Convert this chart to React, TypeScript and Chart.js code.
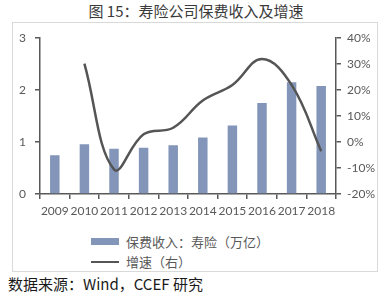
import React, { useEffect, useRef } from "react";
import { Chart, registerables } from "chart.js";

Chart.register(...registerables);

const years = ["2009", "2010", "2011", "2012", "2013", "2014", "2015", "2016", "2017", "2018"];
const premium = [0.745, 0.96, 0.87, 0.89, 0.94, 1.09, 1.32, 1.75, 2.15, 2.08];
const growth = [null, 30.2, -10.5, 3, 5.5, 16, 22, 32, 22, -3.5];
const leftTicks = [0, 1, 2, 3];
const rightTicks = [-20, -10, 0, 10, 20, 30, 40];

const titleText = "图 15：寿险公司保费收入及增速";
const barLabel = "保费收入：寿险（万亿）";
const lineLabel = "增速（右）";
const sourceText = "数据来源：Wind，CCEF 研究";

const BAR_COLOR = "#8395b8";
const LINE_COLOR = "#555555";
const AXIS_COLOR = "#595959";
const TICK_FONT = { family: "Lato, 'Noto Sans', sans-serif", size: 12 };

export default function App() {
  const ref = useRef<HTMLCanvasElement | null>(null);

  useEffect(() => {
    if (!ref.current) return;
    const chart = new Chart(ref.current, {
      data: {
        labels: years,
        datasets: [
          {
            type: "line",
            label: lineLabel,
            data: growth as any,
            yAxisID: "y1",
            borderColor: LINE_COLOR,
            borderWidth: 2.5,
            pointRadius: 0,
            tension: 0.4,
            cubicInterpolationMode: "default",
            order: 0,
          } as any,
          {
            type: "bar",
            label: barLabel,
            data: premium,
            yAxisID: "y",
            backgroundColor: BAR_COLOR,
            categoryPercentage: 1,
            barPercentage: 0.32,
            order: 1,
          } as any,
        ],
      },
      options: {
        animation: false,
        responsive: false,
        maintainAspectRatio: false,
        layout: { padding: { top: 11, left: 0, right: 0, bottom: 0 } },
        plugins: { legend: { display: false }, tooltip: { enabled: false }, title: { display: false } },
        scales: {
          x: {
            type: "category",
            offset: true,
            grid: { offset: true, drawOnChartArea: false, drawTicks: true, tickLength: 5, color: AXIS_COLOR, lineWidth: 1.5 },
            border: { display: true, color: AXIS_COLOR, width: 1.5 },
            ticks: { color: AXIS_COLOR, font: TICK_FONT, padding: 5, maxRotation: 0, autoSkip: false },
            afterFit: (s: any) => { s.height = 28; },
          },
          y: {
            type: "linear",
            position: "left",
            min: leftTicks[0],
            max: leftTicks[leftTicks.length - 1],
            ticks: { stepSize: 1, color: AXIS_COLOR, font: TICK_FONT, padding: 9 },
            grid: { drawOnChartArea: false, drawTicks: true, tickLength: 5, color: AXIS_COLOR, lineWidth: 1.5 },
            border: { display: true, color: AXIS_COLOR, width: 1.5 },
            afterFit: (s: any) => { s.width = 28; },
          },
          y1: {
            type: "linear",
            position: "right",
            min: rightTicks[0],
            max: rightTicks[rightTicks.length - 1],
            ticks: { stepSize: 10, color: AXIS_COLOR, font: TICK_FONT, padding: 6, callback: (v: any) => v + "%" },
            grid: { drawOnChartArea: false, drawTicks: true, tickLength: 5, color: AXIS_COLOR, lineWidth: 1.5 },
            border: { display: true, color: AXIS_COLOR, width: 1.5 },
            afterFit: (s: any) => { s.width = 42; },
          },
        },
      },
    });
    return () => chart.destroy();
  }, []);

  return (
    <div style={{ position: "absolute", left: 0, top: 0, width: 392, height: 296, background: "#fff", overflow: "hidden" }}>
      <div style={{ position: "absolute", left: 0, top: 2, width: 392, textAlign: "center", fontFamily: "'Noto Sans CJK SC', sans-serif", fontSize: 15, lineHeight: "18px", color: "#3a3a3a" }}>
        {titleText}
      </div>
      <div style={{ position: "absolute", left: 12, top: 22, width: 366, height: 250, border: "1px solid #d9d9d9", boxSizing: "border-box" }} />
      <canvas ref={ref} width={366} height={200} style={{ position: "absolute", left: 12, top: 22, width: 366, height: 200 }} />
      <div style={{ position: "absolute", left: 91, top: 238, width: 28, height: 7, background: BAR_COLOR }} />
      <div style={{ position: "absolute", left: 126, top: 233, fontFamily: "'Noto Sans CJK SC', sans-serif", fontSize: 13, lineHeight: "18px", color: AXIS_COLOR, whiteSpace: "nowrap" }}>
        {barLabel}
      </div>
      <div style={{ position: "absolute", left: 91, top: 261, width: 28, height: 2, background: LINE_COLOR }} />
      <div style={{ position: "absolute", left: 126, top: 253, fontFamily: "'Noto Sans CJK SC', sans-serif", fontSize: 13, lineHeight: "18px", color: AXIS_COLOR, whiteSpace: "nowrap" }}>
        {lineLabel}
      </div>
      <div style={{ position: "absolute", left: 8, top: 274, fontFamily: "'Noto Sans CJK SC', sans-serif", fontSize: 15, lineHeight: "20px", color: "#1a1a1a", whiteSpace: "nowrap" }}>
        {sourceText}
      </div>
    </div>
  );
}
